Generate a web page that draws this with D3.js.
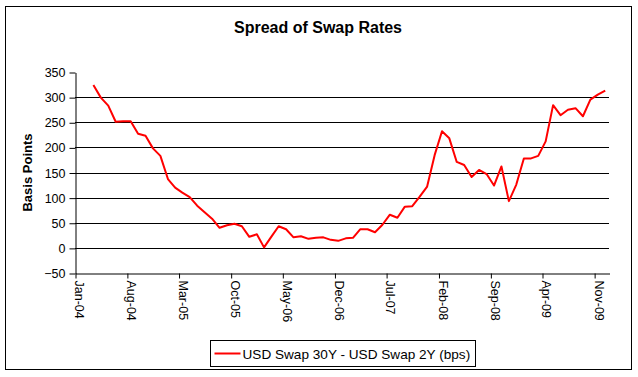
<!DOCTYPE html>
<html>
<head>
<meta charset="utf-8">
<script src="https://cdn.jsdelivr.net/npm/d3@7"></script>
<style>
  body { margin: 0; background: #fff; }
  svg { font-family: Arial, "Liberation Sans", sans-serif; }
</style>
</head>
<body>
<div class="canvas"></div>
<script>
// monthly observations (mid-month)
const months = [
  '2004-03','2004-04','2004-05','2004-06','2004-07','2004-08','2004-09','2004-10','2004-11','2004-12',
  '2005-01','2005-02','2005-03','2005-04','2005-05','2005-06','2005-07','2005-08','2005-09','2005-10','2005-11','2005-12',
  '2006-01','2006-02','2006-03','2006-04','2006-05','2006-06','2006-07','2006-08','2006-09','2006-10','2006-11','2006-12',
  '2007-01','2007-02','2007-03','2007-04','2007-05','2007-06','2007-07','2007-08','2007-09','2007-10','2007-11','2007-12',
  '2008-01','2008-02','2008-03','2008-04','2008-05','2008-06','2008-07','2008-08','2008-09','2008-10','2008-11','2008-12',
  '2009-01','2009-02','2009-03','2009-04','2009-05','2009-06','2009-07','2009-08','2009-09','2009-10','2009-11','2009-12'
];

// USD Swap 30Y - USD Swap 2Y (bps)
const spread = [
  324, 299, 283, 251, 252, 252, 227, 223, 198, 183,
  137, 120, 110, 101, 84, 71, 58, 40, 45, 48, 43, 22,
  27, 1, 22, 43, 37, 21, 23, 18, 20, 21, 16, 14,
  19, 20, 37, 37, 31, 46, 66, 60, 82, 83, 102, 122,
  185, 232, 218, 171, 165, 141, 155, 147, 124, 162, 93, 126,
  178, 178, 183, 212, 284, 264, 275, 278, 262, 295, 305, 313
];

const tickLabels = ['Jan-04','Aug-04','Mar-05','Oct-05','May-06','Dec-06','Jul-07','Feb-08','Sep-08','Apr-09','Nov-09'];
const yTicks = [-50, 0, 50, 100, 150, 200, 250, 300, 350];

const width = 638, height = 377;
const plot = {left: 75, right: 609, top: 72, bottom: 273};

const svg = d3.select('.canvas')
  .append('svg')
    .attr('width', width)
    .attr('height', height);

// outer chart border
svg.append('rect')
  .attr('x', 5.5).attr('y', 6.5)
  .attr('width', 626).attr('height', 363)
  .attr('fill', '#fff')
  .attr('stroke', '#000');

const parseMonth = d3.timeParse('%Y-%m');
const parseTick = d3.timeParse('%b-%y');

const x = d3.scaleTime()
  .domain([new Date(2004, 0, 1), new Date(2010, 0, 1)])
  .range([plot.left, plot.right]);

const y = d3.scaleLinear()
  .domain([-50, 350])
  .range([plot.bottom, plot.top]);

const data = months.map((m, i) => {
  const start = parseMonth(m);
  const end = d3.timeMonth.offset(start, 1);
  return {date: new Date((start.getTime() + end.getTime()) / 2), value: spread[i]};
});

// gridlines
svg.append('g')
  .selectAll('line')
  .data(yTicks.filter(t => t > -50 && t < 350))
  .enter()
  .append('line')
    .attr('x1', plot.left)
    .attr('x2', plot.right)
    .attr('y1', d => Math.round(y(d)) + 0.5)
    .attr('y2', d => Math.round(y(d)) + 0.5)
    .attr('stroke', '#000');

// y axis
const yAxisGroup = svg.append('g')
  .attr('transform', `translate(${plot.left + 0.5}, 0.5)`);
yAxisGroup.call(d3.axisLeft(y).tickValues(yTicks).tickSize(6).tickPadding(4).tickSizeOuter(0));
yAxisGroup.select('.domain').attr('stroke', '#000');
yAxisGroup.selectAll('text')
  .attr('font-size', '12.5px')
  .attr('font-family', 'Arial, "Liberation Sans", sans-serif')
  .attr('fill', '#000');

// x axis
const xAxisGroup = svg.append('g')
  .attr('transform', `translate(0.5, ${Math.round(plot.bottom) + 0.5})`);
xAxisGroup.call(d3.axisBottom(x)
  .tickValues(tickLabels.map(parseTick))
  .tickFormat(d3.timeFormat('%b-%y'))
  .tickSize(5)
  .tickSizeOuter(0));
xAxisGroup.selectAll('text')
  .attr('font-size', '12.5px')
  .attr('font-family', 'Arial, "Liberation Sans", sans-serif')
  .attr('fill', '#000')
  .attr('transform', 'rotate(90)')
  .attr('text-anchor', 'start')
  .attr('dy', '0.05em')
  .attr('x', 7)
  .attr('y', 0);

// series line
const line = d3.line()
  .x(d => x(d.date))
  .y(d => y(d.value));

svg.append('path')
  .datum(data)
  .attr('fill', 'none')
  .attr('stroke', '#ff0000')
  .attr('stroke-width', 2)
  .attr('stroke-linejoin', 'round')
  .attr('d', line);

// title
svg.append('text')
  .attr('x', 318)
  .attr('y', 33)
  .attr('text-anchor', 'middle')
  .attr('font-size', '16px')
  .attr('font-weight', 'bold')
  .text('Spread of Swap Rates');

// y axis title
svg.append('text')
  .attr('transform', `translate(32, ${(plot.top + plot.bottom) / 2}) rotate(-90)`)
  .attr('text-anchor', 'middle')
  .attr('font-size', '13px')
  .attr('font-weight', 'bold')
  .text('Basis Points');

// legend
const legend = svg.append('g').attr('transform', 'translate(210.5, 340.5)');
legend.append('rect')
  .attr('width', 265)
  .attr('height', 26)
  .attr('fill', '#fff')
  .attr('stroke', '#000');
legend.append('line')
  .attr('x1', 4).attr('x2', 30)
  .attr('y1', 13).attr('y2', 13)
  .attr('stroke', '#ff0000')
  .attr('stroke-width', 2);
legend.append('text')
  .attr('x', 32)
  .attr('y', 18)
  .attr('font-size', '13.6px')
  .text('USD Swap 30Y - USD Swap 2Y (bps)');
</script>
</body>
</html>
